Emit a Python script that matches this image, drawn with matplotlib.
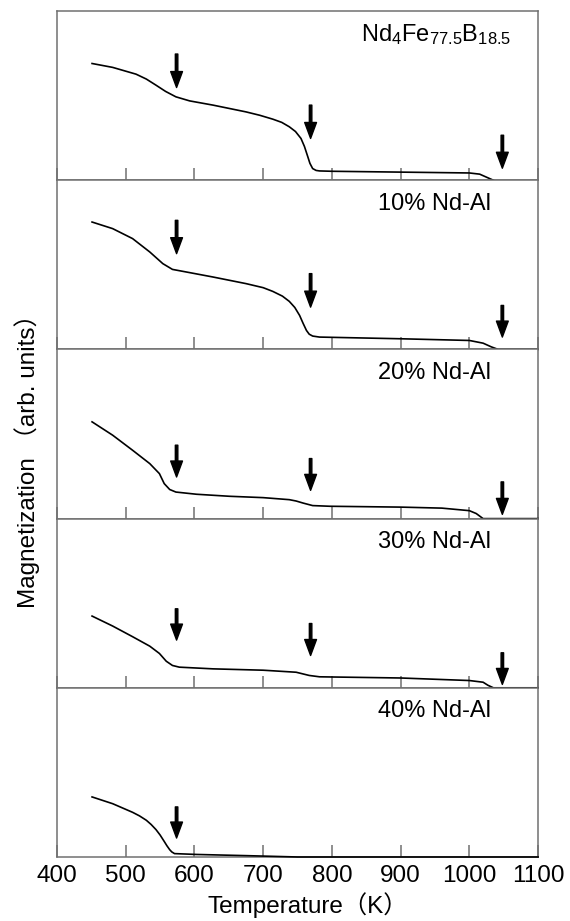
import matplotlib
matplotlib.use('Agg')
import matplotlib.pyplot as plt

plt.rcParams['font.family'] = ['Liberation Sans', 'Noto Sans CJK JP', 'DejaVu Sans']
plt.rcParams['mathtext.fontset'] = 'custom'
plt.rcParams['mathtext.rm'] = 'Liberation Sans'
plt.rcParams['mathtext.default'] = 'regular'

# Datos (temperatura en K, magnetizacion en unidades arbitrarias)

labels = [r'Nd$_4$Fe$_{77.5}$B$_{18.5}$', '10% Nd-Al', '20% Nd-Al', '30% Nd-Al', '40% Nd-Al']

temp_0 = [451, 481, 515, 530, 544, 558, 573, 593, 627, 675, 695, 714, 727, 738, 747, 755, 760, 765, 768,
          772, 777, 782, 800, 900, 1000, 1015, 1025, 1035]
mag_0 = [0.690, 0.667, 0.627, 0.598, 0.562, 0.525, 0.493, 0.469, 0.444, 0.404, 0.384, 0.361, 0.342, 0.316,
         0.288, 0.247, 0.200, 0.138, 0.100, 0.069, 0.058, 0.055, 0.053, 0.048, 0.043, 0.036, 0.018, 0.0]

temp_10 = [451, 481, 510, 535, 554, 568, 593, 627, 675, 700, 714, 728, 738, 746, 753, 758, 763, 767, 772,
           782, 900, 1000, 1020, 1032, 1042, 1100]
mag_10 = [0.753, 0.714, 0.655, 0.576, 0.507, 0.473, 0.454, 0.428, 0.389, 0.365, 0.343, 0.315, 0.284, 0.248,
          0.201, 0.155, 0.112, 0.090, 0.079, 0.073, 0.063, 0.053, 0.037, 0.015, 0.0, 0.0]

temp_20 = [451, 481, 510, 535, 549, 556, 564, 573, 603, 651, 700, 738, 748, 758, 772, 797, 900, 960, 1000,
           1010, 1020, 1100]
mag_20 = [0.572, 0.493, 0.404, 0.325, 0.266, 0.207, 0.172, 0.157, 0.144, 0.132, 0.124, 0.112, 0.104, 0.092,
          0.077, 0.073, 0.068, 0.062, 0.047, 0.030, 0.0, 0.0]

temp_30 = [451, 481, 510, 535, 549, 559, 568, 578, 627, 700, 748, 758, 767, 782, 900, 1000, 1020, 1027, 1035, 1100]
mag_30 = [0.424, 0.365, 0.302, 0.246, 0.203, 0.157, 0.132, 0.122, 0.112, 0.104, 0.092, 0.082, 0.073, 0.065,
          0.058, 0.043, 0.033, 0.015, 0.0, 0.0]

temp_40 = [451, 481, 510, 520, 530, 537, 544, 550, 556, 560, 564, 567, 571, 603, 675, 750, 1100]
mag_40 = [0.355, 0.315, 0.264, 0.243, 0.217, 0.192, 0.162, 0.130, 0.092, 0.066, 0.043, 0.030, 0.020, 0.015,
          0.008, 0.0, 0.0]

# Flechas: temperatura, extremo superior y punta
arrow_temp = [[574, 769, 1048], [574, 769, 1048], [574, 769, 1048], [574, 769, 1048], [574]]
arrow_top = [[0.746, 0.444, 0.266], [0.763, 0.448, 0.260], [0.434, 0.355, 0.217], [0.467, 0.380, 0.207], [0.296]]
arrow_tip = [[0.548, 0.247, 0.071], [0.566, 0.250, 0.073], [0.246, 0.167, 0.025], [0.282, 0.191, 0.020], [0.112]]

temps = [temp_0, temp_10, temp_20, temp_30, temp_40]
mags = [mag_0, mag_10, mag_20, mag_30, mag_40]
xticks = [400, 500, 600, 700, 800, 900, 1000, 1100]

fig, axes = plt.subplots(5, 1, sharex=True, figsize=(5.7, 9.21), dpi=100)
fig.subplots_adjust(left=0.1, right=0.944, bottom=0.0695, top=0.988, hspace=0)

for i, ax in enumerate(axes):
    ax.plot(temps[i], mags[i], color='k', lw=1.2, clip_on=False, zorder=3)
    for t, top, tip in zip(arrow_temp[i], arrow_top[i], arrow_tip[i]):
        ax.annotate('', xy=(t, tip), xytext=(t, top),
                    arrowprops=dict(facecolor='black', edgecolor='black', width=1.8,
                                    headwidth=8.5, headlength=11.5, shrink=0))
    ax.text(0.902 if i > 0 else 0.944, 0.86, labels[i], transform=ax.transAxes,
            ha='right', va='center', fontsize=17)
    ax.set_xlim(400, 1100)
    ax.set_ylim(0, 1)
    ax.set_yticks([])
    ax.set_xticks(xticks)
    ax.tick_params(axis='x', direction='in', length=8.6, width=1.1, color='#707070',
                   labelsize=17.5, pad=6)
    for s in ax.spines.values():
        s.set_color('#707070')
        s.set_linewidth(1.1)

fig.text(0.047, 0.506, 'Magnetization （arb. units）', rotation=90, ha='center', va='center', fontsize=17.5)
fig.text(0.54, 0.017, 'Temperature（K）', ha='center', va='center', fontsize=17.5)

plt.savefig('out.png', dpi=100)
